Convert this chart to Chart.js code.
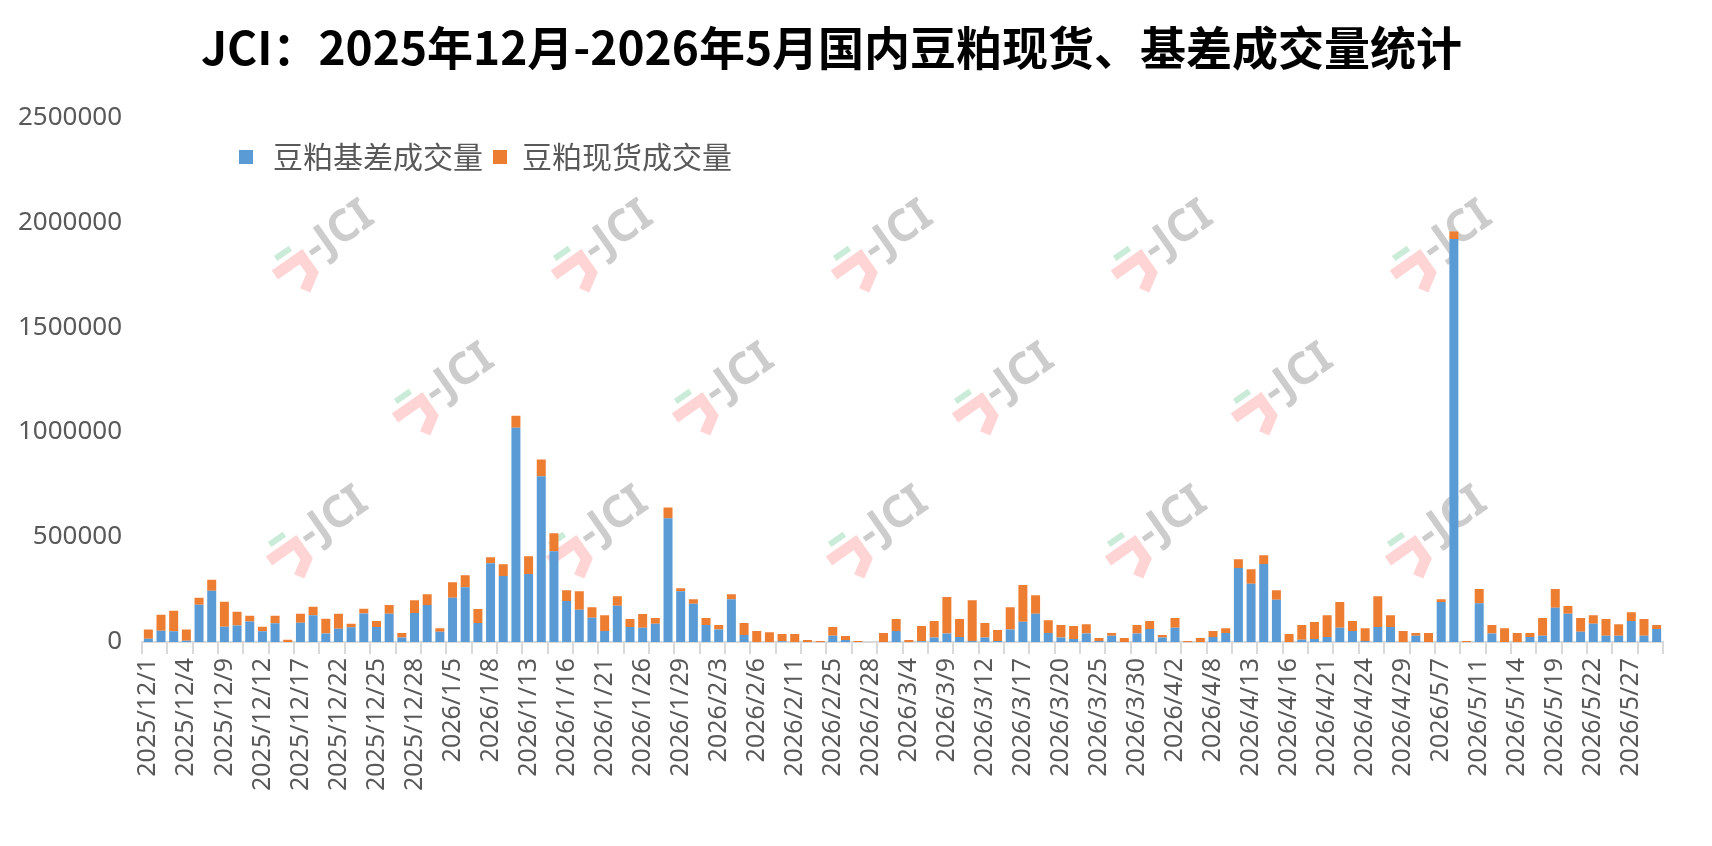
<!DOCTYPE html>
<html>
<head>
<meta charset="utf-8">
<script src="https://cdn.jsdelivr.net/npm/chart.js@4.4.1/dist/chart.umd.min.js"></script>
<style>
  html, body { margin: 0; padding: 0; background: #fff; }
  #wrap { width: 1712px; height: 846px; }
</style>
</head>
<body>
<div id="wrap"><canvas id="chart" width="1712" height="846"></canvas></div>
<script>
/* --------------- Data --------------------- */
const dates = [
  "2025/12/1", "2025/12/2", "2025/12/3", "2025/12/4", "2025/12/5", "2025/12/8", "2025/12/9", "2025/12/10", "2025/12/11", "2025/12/12",
  "2025/12/15", "2025/12/16", "2025/12/17", "2025/12/18", "2025/12/19", "2025/12/22", "2025/12/23", "2025/12/24", "2025/12/25", "2025/12/26",
  "2025/12/27", "2025/12/28", "2025/12/29", "2025/12/30", "2026/1/5", "2026/1/6", "2026/1/7", "2026/1/8", "2026/1/9", "2026/1/12",
  "2026/1/13", "2026/1/14", "2026/1/15", "2026/1/16", "2026/1/19", "2026/1/20", "2026/1/21", "2026/1/22", "2026/1/23", "2026/1/26",
  "2026/1/27", "2026/1/28", "2026/1/29", "2026/1/30", "2026/2/2", "2026/2/3", "2026/2/4", "2026/2/5", "2026/2/6", "2026/2/9",
  "2026/2/10", "2026/2/11", "2026/2/12", "2026/2/13", "2026/2/25", "2026/2/26", "2026/2/27", "2026/2/28", "2026/3/2", "2026/3/3",
  "2026/3/4", "2026/3/5", "2026/3/6", "2026/3/9", "2026/3/10", "2026/3/11", "2026/3/12", "2026/3/13", "2026/3/16", "2026/3/17",
  "2026/3/18", "2026/3/19", "2026/3/20", "2026/3/23", "2026/3/24", "2026/3/25", "2026/3/26", "2026/3/27", "2026/3/30", "2026/3/31",
  "2026/4/1", "2026/4/2", "2026/4/3", "2026/4/7", "2026/4/8", "2026/4/9", "2026/4/10", "2026/4/13", "2026/4/14", "2026/4/15",
  "2026/4/16", "2026/4/17", "2026/4/20", "2026/4/21", "2026/4/22", "2026/4/23", "2026/4/24", "2026/4/27", "2026/4/28", "2026/4/29",
  "2026/4/30", "2026/5/6", "2026/5/7", "2026/5/8", "2026/5/9", "2026/5/11", "2026/5/12", "2026/5/13", "2026/5/14", "2026/5/15",
  "2026/5/18", "2026/5/19", "2026/5/20", "2026/5/21", "2026/5/22", "2026/5/25", "2026/5/26", "2026/5/27", "2026/5/28", "2026/5/29"
];

// 豆粕基差成交量 (blue, bottom of stack)
const basisVolume = [
  16000, 54000, 51000, 6000, 177000, 244000, 73000, 79000, 98000, 51000,
  89000, 0, 92000, 127000, 41000, 63000, 70000, 136000, 71000, 135000,
  21000, 138000, 176000, 49000, 211000, 261000, 90000, 375000, 315000, 1021000,
  324000, 790000, 432000, 195000, 154000, 116000, 52000, 173000, 71000, 68000,
  87000, 590000, 242000, 182000, 81000, 59000, 204000, 33000, 0, 0,
  3000, 0, 0, 0, 30000, 9500, 0, 0, 0, 52000,
  0, 3000, 21000, 40000, 24000, 5000, 21000, 5000, 59000, 97000,
  135000, 43000, 21000, 14000, 40000, 5000, 30000, 0, 40000, 62000,
  21000, 68000, 0, 0, 24000, 43000, 353000, 277000, 372000, 201000,
  0, 11000, 14000, 24000, 68000, 52000, 5000, 71000, 71000, 0,
  30000, 0, 191000, 1920000, 0, 185000, 40000, 0, 0, 24000,
  30000, 163000, 135000, 49000, 87000, 30000, 30000, 100000, 30000, 62000
];

// 豆粕现货成交量 (orange, top of stack)
const spotVolume = [
  43000, 76000, 98000, 53000, 34000, 52000, 119000, 65000, 27000, 22000,
  36000, 11000, 43000, 41000, 70000, 72000, 17000, 22000, 29000, 41000,
  22000, 61000, 52000, 17000, 74000, 57000, 67000, 29000, 55000, 57000,
  84000, 79000, 86000, 52000, 88000, 50000, 76000, 45000, 38000, 65000,
  27000, 51000, 14000, 22000, 33000, 22000, 24000, 57000, 52000, 47000,
  35000, 38000, 9500, 5000, 41000, 18500, 5000, 0, 43000, 57000,
  10000, 73000, 79000, 174000, 85000, 194000, 69000, 52000, 107000, 174000,
  88000, 61000, 60000, 62000, 45000, 14000, 13000, 19000, 41000, 38000,
  12000, 46000, 5000, 19000, 28000, 23000, 41000, 70000, 41000, 46000,
  38000, 70000, 81000, 104000, 122000, 48000, 61000, 147000, 57000, 52000,
  13000, 43000, 13000, 36000, 5000, 67000, 41000, 66000, 43000, 19000,
  84000, 89000, 36000, 65000, 41000, 79000, 55000, 42000, 79000, 19000
];

const seriesNames = ["豆粕基差成交量", "豆粕现货成交量"];
const seriesColors = ["#5B9BD5", "#ED7D31"];
const yMax = 2500000;
const yStep = 500000;

/* --------------- Watermark --------------------- */
const watermarkSpots = [
  [346, 230], [625, 230], [905, 230], [1185, 230], [1464, 230],
  [466, 373], [746, 373], [1026, 373], [1305, 373],
  [340, 516], [620, 516], [900, 516], [1179, 516], [1459, 516]
];

function drawMark(ctx, x, y) {
  ctx.save();
  ctx.translate(x, y);
  ctx.rotate(-35 * Math.PI / 180);
  // pink hook
  ctx.strokeStyle = "rgba(255,170,170,0.5)";
  ctx.lineWidth = 11;
  ctx.lineJoin = "miter";
  ctx.beginPath();
  ctx.moveTo(-84, -4);
  ctx.lineTo(-52, -4);
  ctx.lineTo(-52, 16);
  ctx.lineTo(-68, 26);
  ctx.stroke();
  // green dash
  ctx.fillStyle = "rgba(140,210,170,0.45)";
  ctx.fillRect(-74, -20, 18, 6);
  // grey text
  ctx.fillStyle = "rgba(170,170,170,0.6)";
  ctx.font = "bold 44px 'Noto Sans'";
  ctx.textAlign = "left";
  ctx.textBaseline = "middle";
  ctx.fillText("-JCI", -44, -2);
  ctx.restore();
}

const watermarkPlugin = {
  id: "watermark",
  beforeDatasetsDraw(chart) {
    const ctx = chart.ctx;
    watermarkSpots.forEach(([x, y]) => drawMark(ctx, x, y));
  }
};

/* --------------- Legend (inside plot) --------------------- */
const legendPlugin = {
  id: "innerLegend",
  afterDraw(chart) {
    const ctx = chart.ctx;
    const items = [
      { box: 239, text: 273 },
      { box: 493, text: 522 }
    ];
    const cy = 157;
    ctx.save();
    ctx.font = "30px 'Noto Sans CJK SC'";
    ctx.textBaseline = "middle";
    ctx.textAlign = "left";
    chart.data.datasets.forEach((ds, i) => {
      ctx.fillStyle = ds.backgroundColor;
      ctx.fillRect(items[i].box, cy - 7, 14, 14);
      ctx.fillStyle = "#595959";
      ctx.fillText(ds.label, items[i].text, cy);
    });
    ctx.restore();
  }
};

/* --------------- Chart --------------------- */
new Chart(document.getElementById("chart"), {
  type: "bar",
  plugins: [watermarkPlugin, legendPlugin],
  data: {
    labels: dates,
    datasets: [
      { label: seriesNames[0], data: basisVolume, backgroundColor: seriesColors[0] },
      { label: seriesNames[1], data: spotVolume, backgroundColor: seriesColors[1] }
    ]
  },
  options: {
    responsive: false,
    devicePixelRatio: 1,
    animation: false,
    datasets: { bar: { categoryPercentage: 1, barPercentage: 0.71 } },
    layout: { padding: { left: 0, right: 49, top: 0, bottom: 0 } },
    plugins: {
      legend: { display: false },
      tooltip: { enabled: false },
      title: {
        display: true,
        text: "JCI：2025年12月-2026年5月国内豆粕现货、基差成交量统计",
        color: "#000",
        font: { family: "'Noto Sans CJK SC'", size: 46, weight: "bold" },
        padding: { top: 20, bottom: 42 }
      }
    },
    scales: {
      x: {
        stacked: true,
        afterFit: (s) => { s.height = 204; },
        border: { color: "#d9d9d9", width: 2 },
        grid: {
          drawOnChartArea: false,
          drawTicks: true,
          tickLength: 12,
          lineWidth: 2,
          color: (c) => (c.index === undefined || c.index % 2 === 0) ? "#d9d9d9" : "rgba(0,0,0,0)"
        },
        ticks: {
          autoSkip: false,
          minRotation: 90,
          maxRotation: 90,
          padding: 4,
          color: "#595959",
          font: { family: "'Noto Sans'", size: 25 },
          callback: (v, i) => (i % 3 === 0 ? dates[i] : "")
        }
      },
      y: {
        stacked: true,
        min: 0,
        max: yMax,
        afterFit: (s) => { s.width = 142; },
        border: { display: false },
        grid: { display: false },
        ticks: {
          stepSize: yStep,
          padding: 12,
          color: "#595959",
          font: { family: "'Noto Sans'", size: 26 },
          callback: (v) => String(v)
        }
      }
    }
  }
});
</script>
</body>
</html>
